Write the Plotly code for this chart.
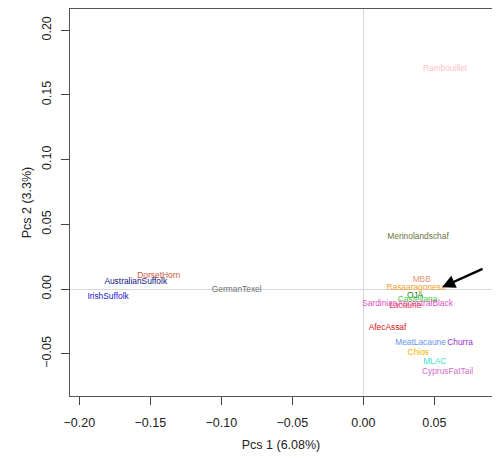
import plotly.graph_objects as go

breeds = ["Rambouillet", "Merinolandschaf", "MBB", "Rasaaragonesa", "OJA", "Castellana",
          "SardinianAncestralBlack", "Lacaune", "AfecAssaf", "MeatLacaune", "Churra",
          "Chios", "MLAC", "CyprusFatTail", "DorsetHorn", "AustralianSuffolk",
          "GermanTexel", "IrishSuffolk"]
pc1 = [0.0575, 0.0385, 0.0411, 0.0371, 0.0364, 0.0382,
       0.0311, 0.0295, 0.0170, 0.0403, 0.0681,
       0.0387, 0.0503, 0.0593, -0.1441, -0.1603,
       -0.0892, -0.1798]
pc2 = [0.1698, 0.0404, 0.0069, 0.0010, -0.0054, -0.0085,
       -0.0116, -0.0132, -0.0299, -0.0419, -0.0419,
       -0.0496, -0.0566, -0.0643, 0.0103, 0.0056,
       -0.0008, -0.0064]
colors = ["#ffc0cb", "#6b7340", "#e9967a", "#f5a030", "#1a7a1a", "#40d040",
          "#e050c0", "#e04060", "#dd1111", "#6495ed", "#9932cc",
          "#f0b400", "#40e0d0", "#d070c8", "#c85a40", "#101080",
          "#707070", "#2020d0"]

x_ticks = [-0.20, -0.15, -0.10, -0.05, 0.00, 0.05]
y_ticks = [-0.05, 0.00, 0.05, 0.10, 0.15, 0.20]

# arrow (head, tail) in data units
arrow_head = (0.0554, 0.0015)
arrow_tail = (0.0850, 0.0162)

fig = go.Figure()
fig.add_trace(go.Scatter(
    x=pc1, y=pc2, mode="text", text=breeds,
    textposition="middle center",
    textfont=dict(family="Liberation Sans, Arial, sans-serif", size=8.4, color=colors),
    hoverinfo="text", showlegend=False,
))

fig.add_annotation(
    x=arrow_head[0], y=arrow_head[1], ax=arrow_tail[0], ay=arrow_tail[1],
    xref="x", yref="y", axref="x", ayref="y",
    text="", showarrow=True, arrowhead=2, arrowsize=1.1, arrowwidth=2.4,
    arrowcolor="black",
)

axis_font = dict(family="Liberation Sans, Arial, sans-serif", size=12.5, color="#222")

fig.update_layout(
    width=484, height=444,
    margin=dict(l=62, r=0, t=1, b=56),
    paper_bgcolor="white", plot_bgcolor="white",
    font=axis_font,
    xaxis=dict(
        range=[-0.2066, 0.0906], tickvals=x_ticks, tickformat=".2f",
        ticks="outside", ticklen=8, tickcolor="#444", tickwidth=1,
        ticklabelstandoff=7,
        showline=True, linecolor="#555", linewidth=1, mirror=True,
        showgrid=False, zeroline=True, zerolinecolor="#d8d8d8", zerolinewidth=1,
        title=dict(text="Pcs 1 (6.08%)", standoff=18, font=axis_font),
        tickfont=axis_font, automargin=False,
    ),
    yaxis=dict(
        range=[-0.0826, 0.2164], tickvals=y_ticks, tickformat=".2f",
        tickangle=-90, ticklabelstandoff=5,
        ticks="outside", ticklen=8, tickcolor="#444", tickwidth=1,
        showline=True, linecolor="#555", linewidth=1, mirror=False,
        showgrid=False, zeroline=True, zerolinecolor="#d8d8d8", zerolinewidth=1,
        title=dict(text="Pcs 2 (3.3%)", standoff=5, font=axis_font),
        tickfont=axis_font, automargin=False,
    ),
)

fig.write_html("out.html")
